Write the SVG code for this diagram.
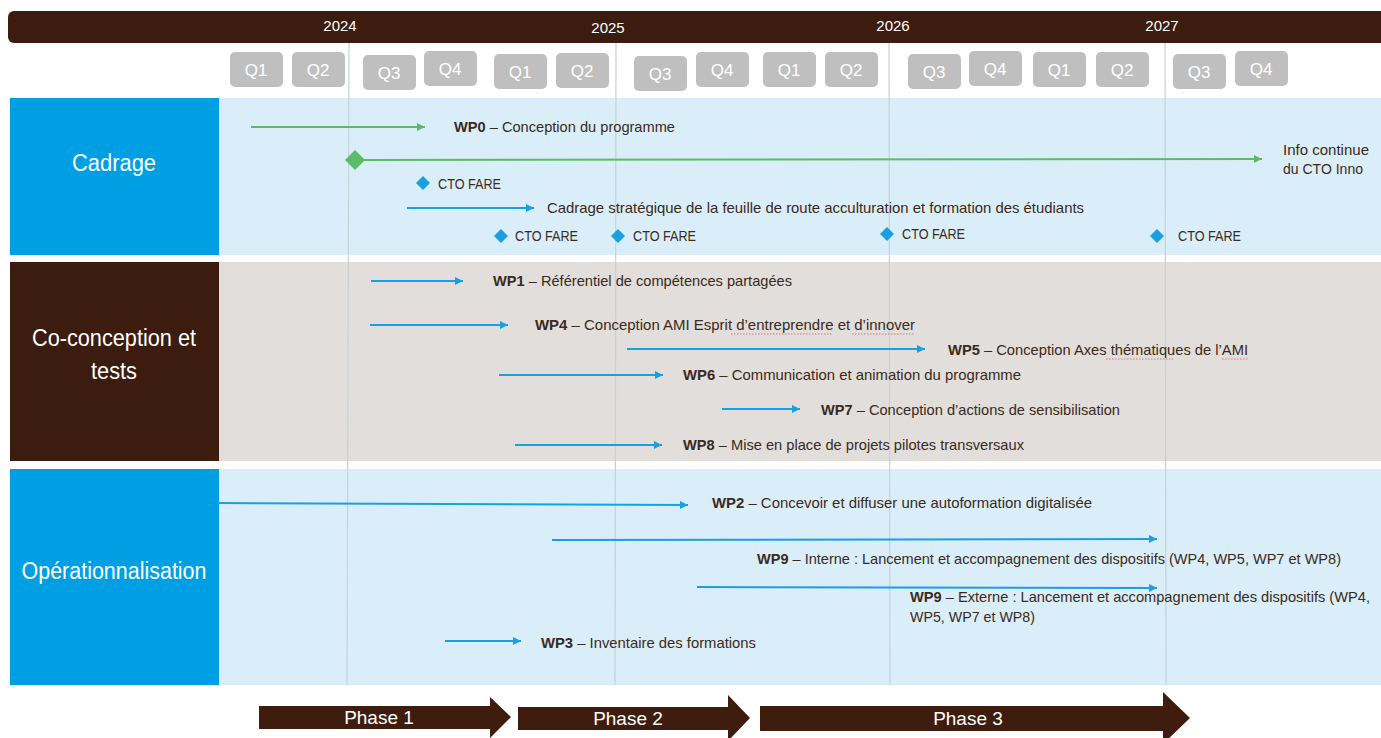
<svg xmlns="http://www.w3.org/2000/svg" width="1381" height="738" viewBox="0 0 1381 738">
<defs>
<style>
.q{fill:#bfbfbf}
.qt{fill:#ffffff;font-family:"Liberation Sans",Arial,sans-serif;font-size:17px;text-anchor:middle}
.yr{fill:#ffffff;font-family:"Liberation Sans",Arial,sans-serif;font-size:15px;text-anchor:middle}
.lab{fill:#ffffff;font-family:"Liberation Sans",Arial,sans-serif;font-size:23px;text-anchor:middle}
.t{fill:#3b2a20;font-family:"Liberation Sans",Arial,sans-serif;font-size:14.5px}
.b{font-weight:bold}
.grid{stroke:#c6d1d8;stroke-width:1.2}
.ab{stroke:#1a9fe0;stroke-width:2;fill:none}
.ag{stroke:#5cba68;stroke-width:2;fill:none}
.dia{fill:#1a9fe0}
.sq{stroke:#e07070;stroke-width:1;stroke-dasharray:1.5 1.5;fill:none}
.ph{fill:#3e1d0f}
.pt{fill:#ffffff;font-family:"Liberation Sans",Arial,sans-serif;font-size:19px;text-anchor:middle}
</style>
<marker id="mb" viewBox="0 0 10 10" refX="10" refY="5" markerWidth="9" markerHeight="8" markerUnits="userSpaceOnUse" orient="auto"><path d="M0,0 L10,5 L0,10 z" fill="#1a9fe0"/></marker>
<marker id="mg" viewBox="0 0 10 10" refX="10" refY="5" markerWidth="9" markerHeight="8" markerUnits="userSpaceOnUse" orient="auto"><path d="M0,0 L10,5 L0,10 z" fill="#5cba68"/></marker>
</defs>
<rect width="1381" height="738" fill="#ffffff"/>

<g id="header">
<rect x="8" y="11" width="1390" height="32" rx="6" fill="#3b1c0e"/>
<text class="yr" x="340" y="31">2024</text>
<text class="yr" x="608" y="33">2025</text>
<text class="yr" x="893" y="31">2026</text>
<text class="yr" x="1162" y="31">2027</text>
</g>

<g id="quarters">
<rect class="q" x="230" y="52" width="53" height="35" rx="5"/><text class="qt" x="256" y="76">Q1</text>
<rect class="q" x="292" y="52" width="53" height="35" rx="5"/><text class="qt" x="318" y="76">Q2</text>
<rect class="q" x="363" y="55" width="53" height="35" rx="5"/><text class="qt" x="389" y="79">Q3</text>
<rect class="q" x="424" y="51" width="53" height="35" rx="5"/><text class="qt" x="450" y="75">Q4</text>
<rect class="q" x="494" y="54" width="53" height="35" rx="5"/><text class="qt" x="520" y="78">Q1</text>
<rect class="q" x="556" y="53" width="53" height="35" rx="5"/><text class="qt" x="582" y="77">Q2</text>
<rect class="q" x="634" y="56" width="53" height="35" rx="5"/><text class="qt" x="660" y="80">Q3</text>
<rect class="q" x="696" y="52" width="53" height="35" rx="5"/><text class="qt" x="722" y="76">Q4</text>
<rect class="q" x="763" y="52" width="53" height="35" rx="5"/><text class="qt" x="789" y="76">Q1</text>
<rect class="q" x="825" y="52" width="53" height="35" rx="5"/><text class="qt" x="851" y="76">Q2</text>
<rect class="q" x="908" y="54" width="53" height="35" rx="5"/><text class="qt" x="934" y="78">Q3</text>
<rect class="q" x="969" y="51" width="53" height="35" rx="5"/><text class="qt" x="995" y="75">Q4</text>
<rect class="q" x="1033" y="52" width="53" height="35" rx="5"/><text class="qt" x="1059" y="76">Q1</text>
<rect class="q" x="1096" y="52" width="53" height="35" rx="5"/><text class="qt" x="1122" y="76">Q2</text>
<rect class="q" x="1173" y="54" width="53" height="35" rx="5"/><text class="qt" x="1199" y="78">Q3</text>
<rect class="q" x="1235" y="51" width="53" height="35" rx="5"/><text class="qt" x="1261" y="75">Q4</text>
</g>

<g id="bands">
<rect x="219" y="98" width="1162" height="157" fill="#daeef9"/>
<rect x="219" y="262" width="1162" height="199" fill="#e1dedb"/>
<rect x="219" y="469" width="1162" height="216" fill="#daeef9"/>
</g>

<g id="grid">
<line class="grid" x1="349" y1="43" x2="347" y2="685"/>
<line class="grid" x1="616" y1="43" x2="615" y2="685"/>
<line class="grid" x1="889" y1="43" x2="890" y2="685"/>
<line class="grid" x1="1165" y1="43" x2="1166" y2="685"/>
</g>

<g id="cadrage">
<rect x="10" y="98" width="209" height="157" fill="#009fe3"/>
<text class="lab" x="114" y="171" textLength="84" lengthAdjust="spacingAndGlyphs">Cadrage</text>
</g>
<g id="coconception">
<rect x="10" y="262" width="209" height="199" fill="#3b1c0e"/>
<text class="lab" x="114" y="346" textLength="164" lengthAdjust="spacingAndGlyphs">Co-conception et</text>
<text class="lab" x="114" y="379" textLength="46" lengthAdjust="spacingAndGlyphs">tests</text>
</g>
<g id="operationnalisation">
<rect x="10" y="469" width="209" height="216" fill="#009fe3"/>
<text class="lab" x="114" y="579" textLength="185" lengthAdjust="spacingAndGlyphs">Opérationnalisation</text>
</g>

<g id="connectors">
<line class="ag" x1="251" y1="127" x2="425" y2="127" marker-end="url(#mg)"/>
<line class="ag" x1="362" y1="160" x2="1262" y2="159" marker-end="url(#mg)"/>
<line class="ab" x1="407" y1="208" x2="534" y2="208" marker-end="url(#mb)"/>
<line class="ab" x1="371" y1="281" x2="463" y2="281" marker-end="url(#mb)"/>
<line class="ab" x1="370" y1="325" x2="508" y2="325" marker-end="url(#mb)"/>
<line class="ab" x1="627" y1="349" x2="925" y2="349" marker-end="url(#mb)"/>
<line class="ab" x1="499" y1="375" x2="663" y2="375" marker-end="url(#mb)"/>
<line class="ab" x1="722" y1="409" x2="800" y2="409" marker-end="url(#mb)"/>
<line class="ab" x1="515" y1="445" x2="662" y2="445" marker-end="url(#mb)"/>
<line class="ab" x1="219" y1="503" x2="688" y2="505" marker-end="url(#mb)"/>
<line class="ab" x1="552" y1="540" x2="1157" y2="539" marker-end="url(#mb)"/>
<line class="ab" x1="697" y1="587" x2="1157" y2="588" marker-end="url(#mb)"/>
<line class="ab" x1="445" y1="641" x2="521" y2="641" marker-end="url(#mb)"/>
</g>

<g id="milestones">
<path d="M355,150 L365,160 L355,170 L345,160 z" fill="#5cba68"/>
<path class="dia" d="M423,176 L430,183 L423,190 L416,183 z"/>
<path class="dia" d="M501,229 L508,236 L501,243 L494,236 z"/>
<path class="dia" d="M618,229 L625,236 L618,243 L611,236 z"/>
<path class="dia" d="M887,227 L894,234 L887,241 L880,234 z"/>
<path class="dia" d="M1157,229 L1164,236 L1157,243 L1150,236 z"/>
</g>

<g id="labels">
<text class="t" x="454" y="132" textLength="221" lengthAdjust="spacingAndGlyphs"><tspan class="b">WP0</tspan> – Conception du programme</text>
<text class="t" x="1283" y="155" textLength="86" lengthAdjust="spacingAndGlyphs">Info continue</text>
<text class="t" x="1283" y="174" textLength="80" lengthAdjust="spacingAndGlyphs">du CTO Inno</text>
<text class="t" x="438" y="189" textLength="63" lengthAdjust="spacingAndGlyphs">CTO FARE</text>
<text class="t" x="547" y="213" textLength="537" lengthAdjust="spacingAndGlyphs">Cadrage stratégique de la feuille de route acculturation et formation des étudiants</text>
<text class="t" x="515" y="241" textLength="63" lengthAdjust="spacingAndGlyphs">CTO FARE</text>
<text class="t" x="633" y="241" textLength="63" lengthAdjust="spacingAndGlyphs">CTO FARE</text>
<text class="t" x="902" y="239" textLength="63" lengthAdjust="spacingAndGlyphs">CTO FARE</text>
<text class="t" x="1178" y="241" textLength="63" lengthAdjust="spacingAndGlyphs">CTO FARE</text>

<text class="t" x="493" y="286" textLength="299" lengthAdjust="spacingAndGlyphs"><tspan class="b">WP1</tspan> – Référentiel de compétences partagées</text>
<text class="t" x="535" y="330" textLength="380" lengthAdjust="spacingAndGlyphs"><tspan class="b">WP4</tspan> – Conception AMI Esprit d’entreprendre et d’innover</text>
<text class="t" x="948" y="355" textLength="300" lengthAdjust="spacingAndGlyphs"><tspan class="b">WP5</tspan> – Conception Axes thématiques de l’AMI</text>
<text class="t" x="683" y="380" textLength="338" lengthAdjust="spacingAndGlyphs"><tspan class="b">WP6</tspan> – Communication et animation du programme</text>
<text class="t" x="821" y="415" textLength="299" lengthAdjust="spacingAndGlyphs"><tspan class="b">WP7</tspan> – Conception d’actions de sensibilisation</text>
<text class="t" x="683" y="450" textLength="341" lengthAdjust="spacingAndGlyphs"><tspan class="b">WP8</tspan> – Mise en place de projets pilotes transversaux</text>

<text class="t" x="712" y="508" textLength="380" lengthAdjust="spacingAndGlyphs"><tspan class="b">WP2</tspan> – Concevoir et diffuser une autoformation digitalisée</text>
<text class="t" x="757" y="564" textLength="584" lengthAdjust="spacingAndGlyphs"><tspan class="b">WP9</tspan> – Interne : Lancement et accompagnement des dispositifs (WP4, WP5, WP7 et WP8)</text>
<text class="t" x="910" y="602" textLength="460" lengthAdjust="spacingAndGlyphs"><tspan class="b">WP9</tspan> – Externe : Lancement et accompagnement des dispositifs  (WP4,</text>
<text class="t" x="910" y="622" textLength="125" lengthAdjust="spacingAndGlyphs">WP5, WP7 et WP8)</text>
<text class="t" x="541" y="648" textLength="215" lengthAdjust="spacingAndGlyphs"><tspan class="b">WP3</tspan> – Inventaire des formations</text>
</g>

<g id="spellmarks">
<line class="sq" x1="731" y1="334" x2="832" y2="334"/>
<line class="sq" x1="852" y1="334" x2="914" y2="334"/>
<line class="sq" x1="1106" y1="359" x2="1173" y2="359"/>
<line class="sq" x1="1222" y1="359" x2="1248" y2="359"/>
</g>

<g id="phase1">
<path class="ph" d="M259,706 L490,706 L490,697 L511,717 L490,738 L490,729 L259,729 z"/>
<text class="pt" x="379" y="724">Phase 1</text>
</g>
<g id="phase2">
<path class="ph" d="M518,707 L728,707 L728,695 L750,718 L728,741 L728,730 L518,730 z"/>
<text class="pt" x="628" y="725">Phase 2</text>
</g>
<g id="phase3">
<path class="ph" d="M760,706 L1163,706 L1163,692 L1190,718 L1163,744 L1163,731 L760,731 z"/>
<text class="pt" x="968" y="725">Phase 3</text>
</g>
</svg>
